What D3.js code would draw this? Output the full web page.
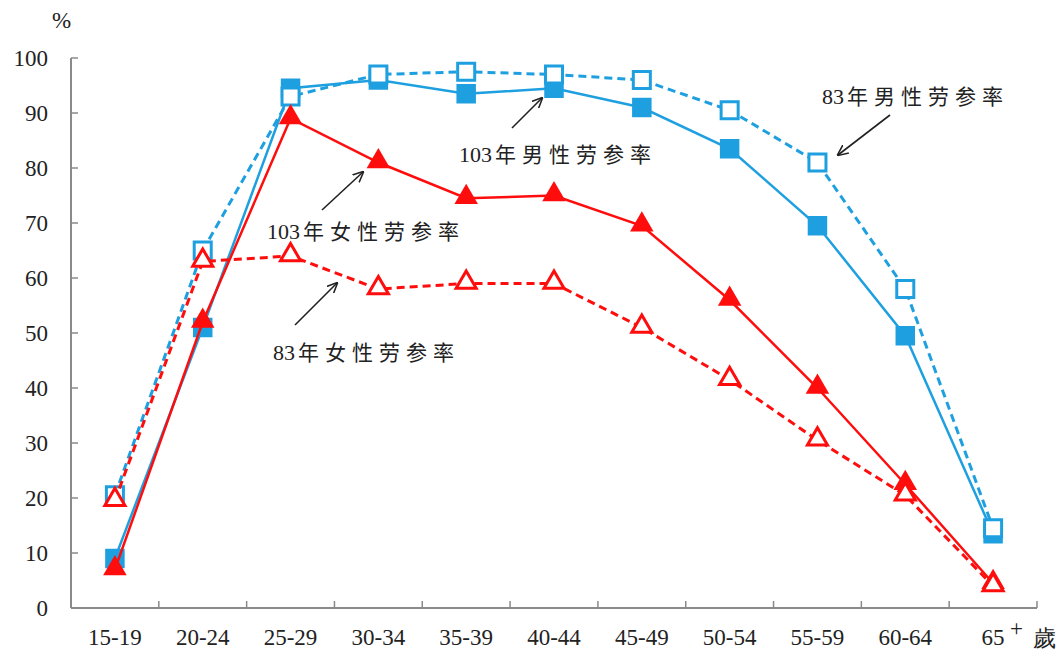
<!DOCTYPE html>
<html lang="zh-Hant">
<head>
<meta charset="UTF-8">
<title>勞參率</title>
<style>
  html, body { margin: 0; padding: 0; background: #fff; }
  svg { display: block; }
  .tick-label { font-family: "Liberation Serif", "DejaVu Serif", serif; font-size: 23px; fill: #222; }
  .note { font-size: 20px; fill: #222; }
  .note .num { font-family: "Liberation Serif", serif; font-size: 22px; }
  .note .cjk { font-family: "Noto Sans CJK TC", sans-serif; font-size: 21px; letter-spacing: 6px; }
</style>
</head>
<body>
<svg width="1064" height="650"></svg>
<script src="https://d3js.org/d3.v7.min.js"></script>
<script>
const ages = ["15-19", "20-24", "25-29", "30-34", "35-39", "40-44", "45-49", "50-54", "55-59", "60-64", "65"];
const yTicks = [0, 10, 20, 30, 40, 50, 60, 70, 80, 90, 100];

const male103 = [9, 51, 94.5, 96, 93.5, 94.5, 91, 83.5, 69.5, 49.5, 13.5];
const male83 = [20.5, 65, 93, 97, 97.5, 97, 96, 90.5, 81, 58, 14.5];
const female103 = [7, 52, 89, 81, 74.5, 75, 69.5, 56, 40, 22.5, 4.5];
const female83 = [19.5, 63, 64, 58, 59, 59, 51, 41.5, 30.5, 20.5, 4];

const blue = "#1ea0e0", red = "#ff0d0d";

const svg = d3.select("svg");
const margin = { top: 58, right: 27, bottom: 42, left: 71 };
const width = 1064, height = 650;

const x = d3.scaleBand().domain(ages).range([margin.left, width - margin.right]).padding(0);
const y = d3.scaleLinear().domain([0, 100]).range([height - margin.bottom, margin.top]);
const cx = d => x(d) + x.bandwidth() / 2;

// axes
const axisColor = "#8a8a8a";
svg.append("line")
    .attr("x1", margin.left).attr("x2", margin.left)
    .attr("y1", y(0)).attr("y2", y(100))
    .attr("stroke", axisColor).attr("stroke-width", 2);
svg.append("line")
    .attr("x1", margin.left).attr("x2", width - margin.right)
    .attr("y1", y(0)).attr("y2", y(0))
    .attr("stroke", axisColor).attr("stroke-width", 2);

svg.selectAll(".ytick").data(yTicks).enter().append("line")
    .attr("x1", margin.left).attr("x2", margin.left + 7)
    .attr("y1", d => y(d)).attr("y2", d => y(d))
    .attr("stroke", axisColor).attr("stroke-width", 1.5);
svg.selectAll(".ylab").data(yTicks).enter().append("text")
    .attr("class", "tick-label")
    .attr("x", 48).attr("y", d => y(d)).attr("dy", "0.33em")
    .attr("text-anchor", "end").text(d => d);

svg.selectAll(".xtick").data(ages).enter().append("line")
    .attr("x1", d => x(d) + x.bandwidth()).attr("x2", d => x(d) + x.bandwidth())
    .attr("y1", y(0)).attr("y2", y(0) - 7)
    .attr("stroke", axisColor).attr("stroke-width", 1.5);
svg.selectAll(".xlab").data(ages).enter().append("text")
    .attr("class", "tick-label")
    .attr("x", d => cx(d)).attr("y", 645)
    .attr("text-anchor", "middle").text(d => d);
svg.append("text").attr("class", "tick-label")
    .attr("x", cx("65") + 17).attr("y", 636).attr("font-size", 21).text("+");
svg.append("text").attr("class", "tick-label")
    .attr("x", cx("65") + 40).attr("y", 646)
    .attr("font-family", "Noto Sans CJK TC").attr("font-size", 21).text("歲");
svg.append("text").attr("class", "tick-label")
    .attr("x", 52).attr("y", 28).attr("font-size", 21).text("%");

// series
const line = d3.line().x((d, i) => cx(ages[i])).y(d => y(d));

function drawSeries(vals, dashed, shape, filled, color) {
    svg.append("path").datum(vals)
        .attr("d", line).attr("fill", "none")
        .attr("stroke", color)
        .attr("stroke-width", dashed ? 3 : 2.5)
        .attr("stroke-dasharray", dashed ? "8,5" : null);
    const sym = d3.symbol().type(shape === "square" ? d3.symbolSquare : d3.symbolTriangle)
        .size(shape === "square" ? (filled ? 380 : 290) : (filled ? 240 : 175));
    svg.selectAll(null).data(vals).enter().append("path")
        .attr("d", sym)
        .attr("transform", (d, i) => `translate(${cx(ages[i])},${y(d) + (shape === "square" ? 0 : -1)})`)
        .attr("fill", filled ? color : "#fff")
        .attr("stroke", color)
        .attr("stroke-width", filled ? 0 : 3);
}

drawSeries(male103, false, "square", true, blue);
drawSeries(male83, true, "square", false, blue);
drawSeries(female103, false, "triangle", true, red);
drawSeries(female83, true, "triangle", false, red);

// annotations
const notes = [
    { year: "83", label: "年男性劳参率", x: 822, y: 104, from: [890, 115], to: [838, 155] },
    { year: "103", label: "年男性劳参率", x: 459, y: 162, from: [512, 128], to: [542, 98] },
    { year: "103", label: "年女性劳参率", x: 267, y: 239, from: [322, 210], to: [363, 172] },
    { year: "83", label: "年女性劳参率", x: 273, y: 360, from: [295, 325], to: [337, 283] }
];

svg.append("defs").append("marker")
    .attr("id", "arrow").attr("viewBox", "0 0 10 10")
    .attr("refX", 9).attr("refY", 5)
    .attr("markerWidth", 11).attr("markerHeight", 11)
    .attr("markerUnits", "userSpaceOnUse")
    .attr("orient", "auto")
    .append("path").attr("d", "M0,0.5 L10,5 L0,9.5")
    .attr("fill", "none").attr("stroke", "#222").attr("stroke-width", 1.4);

svg.selectAll(".arrow").data(notes).enter().append("line")
    .attr("x1", d => d.from[0]).attr("y1", d => d.from[1])
    .attr("x2", d => d.to[0]).attr("y2", d => d.to[1])
    .attr("stroke", "#222").attr("stroke-width", 1.6)
    .attr("marker-end", "url(#arrow)");

const noteText = svg.selectAll(".note").data(notes).enter().append("text")
    .attr("class", "note")
    .attr("x", d => d.x).attr("y", d => d.y);
noteText.append("tspan").attr("class", "num").text(d => d.year);
noteText.append("tspan").attr("class", "cjk").attr("dx", 3).text(d => d.label);
</script>
</body>
</html>
